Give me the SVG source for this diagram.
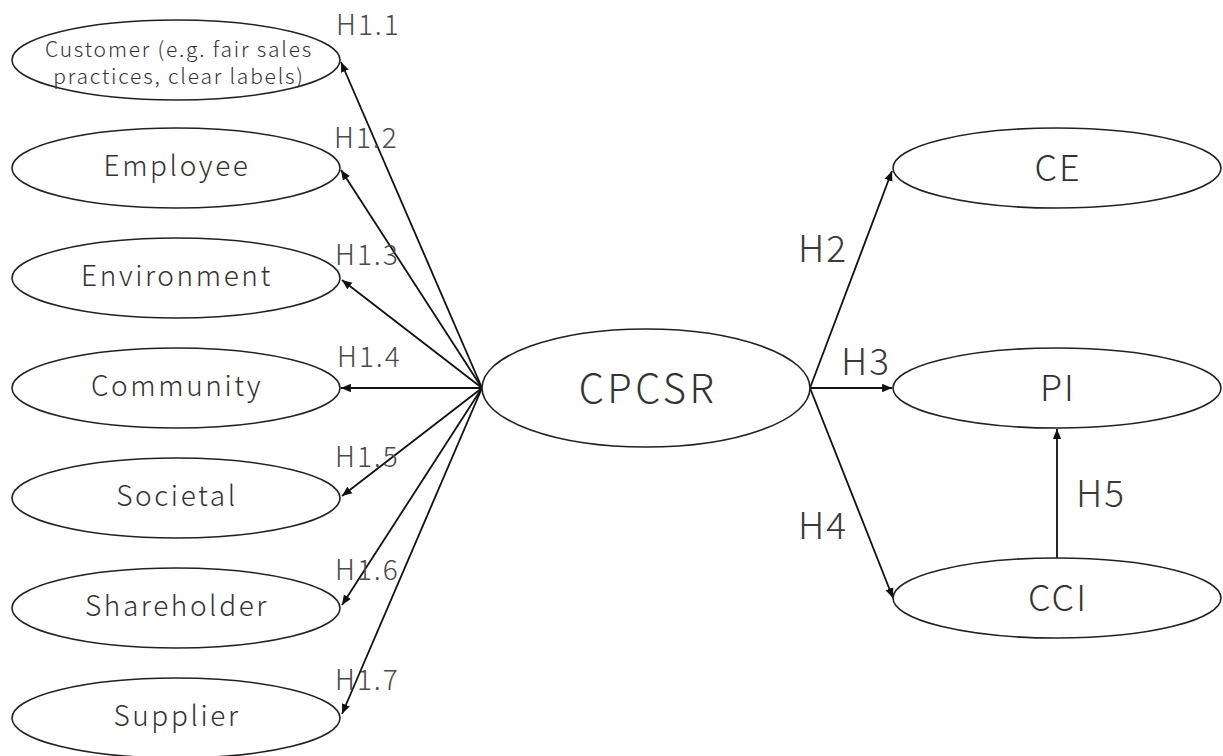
<svg xmlns="http://www.w3.org/2000/svg" width="1223" height="756" viewBox="0 0 1223 756">
<defs>
<style>
.node ellipse{fill:#fff;stroke:#222;stroke-width:1.6}
.lbl{font-family:"Noto Sans CJK JP","Noto Sans",sans-serif;font-weight:300;fill:#333;text-anchor:middle}
.s{font-size:28px;letter-spacing:2.6px}
.c{font-size:21px;letter-spacing:1.8px}
.r{font-size:36px;letter-spacing:2px}
.h{font-family:"Noto Sans CJK JP","Noto Sans",sans-serif;font-weight:300;fill:#4a4a4a;font-size:28px;letter-spacing:2px}
.hr{font-family:"Noto Sans CJK JP","Noto Sans",sans-serif;font-weight:300;fill:#3a3a3a;font-size:37px;letter-spacing:2px}
#connectors line{stroke:#111;stroke-width:1.8;marker-end:url(#arr)}
</style>
<marker id="arr" viewBox="0 0 10 10" refX="10" refY="5" markerWidth="5.5" markerHeight="5.5" orient="auto" markerUnits="strokeWidth">
<path d="M0,0.8 L10,5 L0,9.2 z" fill="#111"/>
</marker>
</defs>
<rect width="1223" height="756" fill="#fff"/>
<g id="connectors">
<line x1="482" y1="388" x2="341" y2="62"/>
<line x1="482" y1="388" x2="341" y2="170"/>
<line x1="482" y1="388" x2="342" y2="280"/>
<line x1="482" y1="388" x2="341" y2="388"/>
<line x1="482" y1="388" x2="342" y2="496"/>
<line x1="482" y1="388" x2="342" y2="605"/>
<line x1="482" y1="388" x2="342" y2="714"/>
<line x1="810" y1="388" x2="892" y2="171"/>
<line x1="810" y1="388" x2="892" y2="388"/>
<line x1="810" y1="388" x2="893" y2="598"/>
<line x1="1057" y1="559" x2="1057" y2="429"/>
</g>
<g id="customer" class="node"><ellipse cx="176" cy="60" rx="164" ry="40"/>
<text class="lbl c" x="179" y="57">Customer (e.g. fair sales</text><text class="lbl c" x="179" y="84">practices, clear labels)</text></g>
<g id="employee" class="node"><ellipse cx="176" cy="168" rx="164" ry="40"/><text class="lbl s" x="177" y="176">Employee</text></g>
<g id="environment" class="node"><ellipse cx="176" cy="278" rx="164" ry="40"/><text class="lbl s" x="177" y="286">Environment</text></g>
<g id="community" class="node"><ellipse cx="176" cy="388" rx="164" ry="40"/><text class="lbl s" x="177" y="396">Community</text></g>
<g id="societal" class="node"><ellipse cx="176" cy="498" rx="164" ry="40"/><text class="lbl s" x="177" y="506">Societal</text></g>
<g id="shareholder" class="node"><ellipse cx="176" cy="608" rx="164" ry="40"/><text class="lbl s" x="177" y="616">Shareholder</text></g>
<g id="supplier" class="node"><ellipse cx="176" cy="718" rx="164" ry="40"/><text class="lbl s" x="177" y="726">Supplier</text></g>
<g id="cpcsr" class="node"><ellipse cx="646" cy="388" rx="164" ry="59"/><text class="lbl" x="648" y="403" style="font-size:40px;letter-spacing:3.5px">CPCSR</text></g>
<g id="ce" class="node"><ellipse cx="1057" cy="168" rx="164" ry="40"/><text class="lbl r" x="1058" y="181">CE</text></g>
<g id="pi" class="node"><ellipse cx="1057" cy="388" rx="164" ry="40"/><text class="lbl r" x="1058" y="401">PI</text></g>
<g id="cci" class="node"><ellipse cx="1057" cy="598" rx="164" ry="40"/><text class="lbl r" x="1058" y="611">CCI</text></g>
<g id="labels">
<text class="h" x="336" y="35">H1.1</text>
<text class="h" x="334" y="148">H1.2</text>
<text class="h" x="335" y="265">H1.3</text>
<text class="h" x="337" y="367">H1.4</text>
<text class="h" x="335" y="467">H1.5</text>
<text class="h" x="335" y="580">H1.6</text>
<text class="h" x="335" y="690">H1.7</text>
<text class="hr" x="798" y="262">H2</text>
<text class="hr" x="841" y="375">H3</text>
<text class="hr" x="798" y="539">H4</text>
<text class="hr" x="1076" y="507">H5</text>
</g>
</svg>
